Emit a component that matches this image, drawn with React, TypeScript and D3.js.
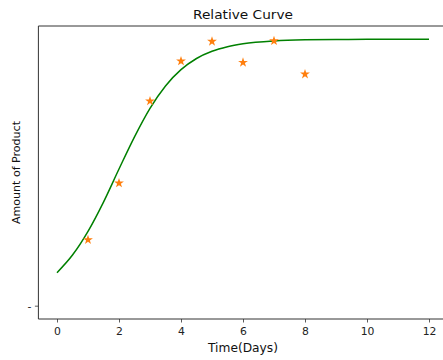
import React, { useEffect, useRef } from "react";
import * as d3 from "d3";

const WIDTH = 443;
const HEIGHT = 360;
const MARGINS = { top: 26, right: -4.6, bottom: 41, left: 38.4 };

// measured points (days, relative amount)
const days = [1, 2, 3, 4, 5, 6, 7, 8];
const amounts = [0.247, 0.46, 0.768, 0.918, 0.992, 0.913, 0.994, 0.869];

// fitted curve
const curveDays = [0, 0.5, 1, 1.5, 2, 2.5, 3, 3.5, 4, 4.5, 5, 5.5, 6, 7, 8, 9, 10, 11, 12];
const curveAmounts = [
  0.124, 0.19, 0.279, 0.389, 0.513, 0.634, 0.741, 0.825, 0.886, 0.928, 0.955, 0.972,
  0.983, 0.994, 0.998, 0.999, 1.0, 1.0, 1.0
];

const xTicks = [0, 2, 4, 6, 8, 10, 12];
const yTicks = [0];
const yTickLabels = ["-"];

const FONT = "DejaVu Sans, sans-serif";

export default function App() {
  const ref = useRef<SVGSVGElement | null>(null);

  useEffect(() => {
    const svg = d3.select(ref.current);
    svg.selectAll("*").remove();

    const x = d3
      .scaleLinear()
      .domain([-0.6, 12.6])
      .range([MARGINS.left, WIDTH - MARGINS.right]);
    const y = d3
      .scaleLinear()
      .domain([-0.05, 1.05])
      .range([HEIGHT - MARGINS.bottom, MARGINS.top]);

    const line = d3
      .line<number>()
      .x((d, i) => x(curveDays[i]))
      .y(d => y(d))
      .curve(d3.curveMonotoneX);

    svg
      .append("path")
      .datum(curveAmounts)
      .attr("d", line)
      .attr("fill", "none")
      .attr("stroke", "green")
      .attr("stroke-width", 1.5);

    const star = d3.symbol().type(d3.symbolStar).size(30);
    svg
      .append("g")
      .selectAll("path")
      .data(amounts)
      .enter()
      .append("path")
      .attr("d", star)
      .attr("transform", (d, i) => `translate(${x(days[i])},${y(d)})`)
      .attr("fill", "#ff7f0e");

    // x axis
    const xAxis = svg
      .append("g")
      .attr("transform", `translate(0,${HEIGHT - MARGINS.bottom})`)
      .call(d3.axisBottom(x).tickValues(xTicks).tickSize(3.5).tickPadding(4.5).tickSizeOuter(0));
    xAxis.select(".domain").remove();
    xAxis.selectAll("line").attr("stroke", "#333").attr("stroke-width", 0.8);
    xAxis
      .selectAll("text")
      .attr("font-family", FONT)
      .attr("font-size", 10.8)
      .attr("fill", "#222");

    // y axis
    const yAxis = svg
      .append("g")
      .attr("transform", `translate(${MARGINS.left},0)`)
      .call(
        d3
          .axisLeft(y)
          .tickValues(yTicks)
          .tickFormat((d, i) => yTickLabels[i])
          .tickSize(3.5)
          .tickPadding(3.5)
      );
    yAxis.select(".domain").remove();
    yAxis.selectAll("line").attr("stroke", "#333").attr("stroke-width", 0.8);
    yAxis
      .selectAll("text")
      .attr("font-family", FONT)
      .attr("font-size", 10.8)
      .attr("fill", "#222");

    // spines (left, top, bottom)
    const x0 = MARGINS.left;
    const x1 = WIDTH - MARGINS.right;
    const y0 = MARGINS.top;
    const y1 = HEIGHT - MARGINS.bottom;
    svg
      .append("path")
      .attr("d", `M${x1},${y0}H${x0}V${y1}H${x1}`)
      .attr("fill", "none")
      .attr("stroke", "#333")
      .attr("stroke-width", 1);

    svg
      .append("text")
      .attr("x", (x0 + x1) / 2)
      .attr("y", 18.5)
      .attr("text-anchor", "middle")
      .attr("font-family", FONT)
      .attr("font-size", 12.5)
      .attr("textLength", 100)
      .attr("lengthAdjust", "spacingAndGlyphs")
      .attr("fill", "#111")
      .text("Relative Curve");

    svg
      .append("text")
      .attr("x", (x0 + x1) / 2)
      .attr("y", 352)
      .attr("text-anchor", "middle")
      .attr("font-family", FONT)
      .attr("font-size", 11.5)
      .attr("textLength", 70)
      .attr("lengthAdjust", "spacingAndGlyphs")
      .attr("fill", "#111")
      .text("Time(Days)");

    svg
      .append("text")
      .attr("transform", `translate(20,${(y0 + y1) / 2}) rotate(-90)`)
      .attr("text-anchor", "middle")
      .attr("font-family", FONT)
      .attr("font-size", 11)
      .attr("textLength", 103)
      .attr("lengthAdjust", "spacingAndGlyphs")
      .attr("fill", "#111")
      .text("Amount of Product");
  }, []);

  return (
    <svg
      ref={ref}
      width={WIDTH}
      height={HEIGHT}
      style={{ position: "fixed", top: 0, left: 0, background: "#fff" }}
    />
  );
}
